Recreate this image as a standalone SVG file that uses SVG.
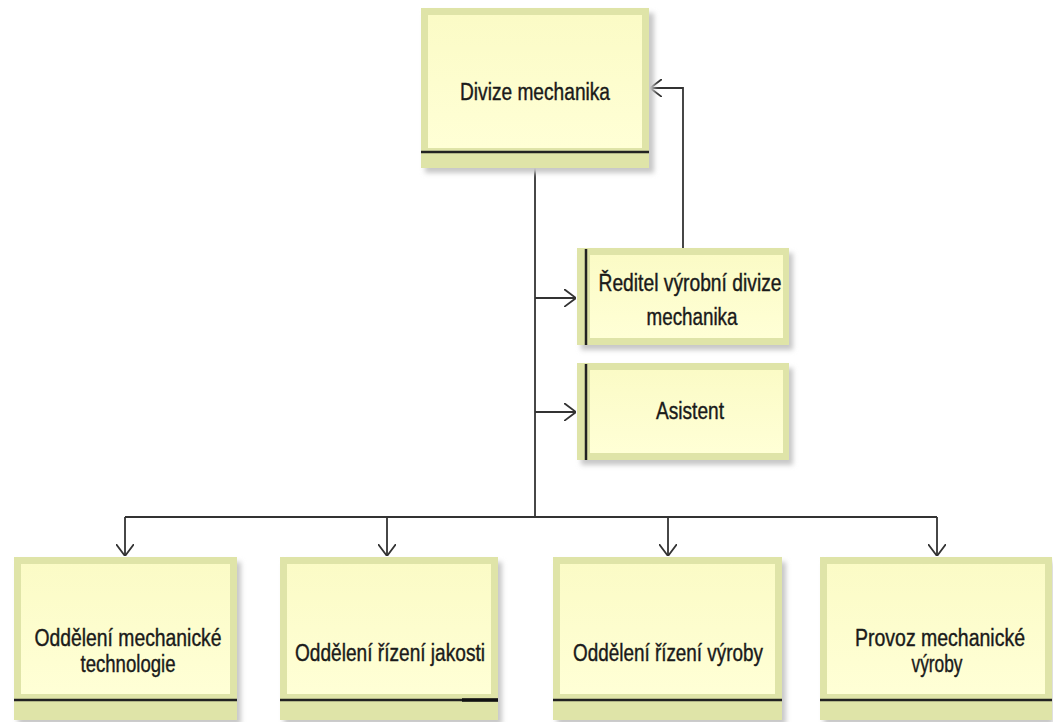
<svg xmlns="http://www.w3.org/2000/svg" width="1053" height="722" viewBox="0 0 1053 722">
<defs>
<style>
.sh{fill:#c8c8c8;filter:url(#blur)}
.out{fill:#dfe4a8}
.in{fill:url(#g)}
.bar{stroke:#222;stroke-width:2.5}
.t{font-family:"Liberation Sans",Arial,sans-serif;font-size:23px;fill:#1a1a1a;stroke:#1a1a1a;stroke-width:0.4;text-anchor:middle}
.c{fill:none;stroke:#333;stroke-width:1.8}
</style>
<filter id="blur" x="-10%" y="-10%" width="120%" height="120%"><feGaussianBlur stdDeviation="2.5"/></filter>
<linearGradient id="g" x1="0" y1="0" x2="0" y2="1">
<stop offset="0" stop-color="#fbfbc6"/>
<stop offset="1" stop-color="#ffffd6"/>
</linearGradient>
<marker id="a" viewBox="0 0 12 18" refX="12" refY="9" markerWidth="12" markerHeight="18" markerUnits="userSpaceOnUse" orient="auto">
<path d="M0,0 L12,9 L0,18" fill="none" stroke="#333" stroke-width="1.8"/>
</marker>
</defs>
<rect width="1053" height="722" fill="#fff"/>
<g id="connectors">
<path class="c" d="M535,168 V517"/>
<path class="c" d="M125,517 H937"/>
<path class="c" d="M125,517 V556" marker-end="url(#a)"/>
<path class="c" d="M387,517 V556" marker-end="url(#a)"/>
<path class="c" d="M668,517 V556" marker-end="url(#a)"/>
<path class="c" d="M937,517 V556" marker-end="url(#a)"/>
<path class="c" d="M535,298 H576" marker-end="url(#a)"/>
<path class="c" d="M535,412 H576" marker-end="url(#a)"/>
<path class="c" d="M683,248 V88 H650" marker-end="url(#a)"/>
</g>
<g id="n-divize">
<rect class="sh" x="425" y="13" width="229" height="160"/>
<rect class="out" x="421" y="8" width="228" height="160"/>
<rect class="in" x="428" y="15" width="214" height="133"/>
<line class="bar" x1="421" y1="152" x2="649" y2="152"/>
<text class="t" x="535" y="100" textLength="150" lengthAdjust="spacingAndGlyphs">Divize mechanika</text>
</g>
<g id="n-reditel">
<rect class="sh" x="581" y="253" width="212" height="97"/>
<rect class="out" x="577" y="248" width="212" height="97"/>
<rect class="in" x="590" y="255" width="193" height="83"/>
<line class="bar" x1="586" y1="249" x2="586" y2="345"/>
<text class="t" x="690" y="291" textLength="183" lengthAdjust="spacingAndGlyphs">Ředitel výrobní divize</text>
<text class="t" x="692" y="325" textLength="91" lengthAdjust="spacingAndGlyphs">mechanika</text>
</g>
<g id="n-asistent">
<rect class="sh" x="581" y="368" width="212" height="97"/>
<rect class="out" x="577" y="363" width="212" height="97"/>
<rect class="in" x="590" y="370" width="193" height="83"/>
<line class="bar" x1="586" y1="364" x2="586" y2="460"/>
<text class="t" x="690" y="419" textLength="68" lengthAdjust="spacingAndGlyphs">Asistent</text>
</g>
<g id="n-tech">
<rect class="sh" x="18" y="562" width="223" height="163"/>
<rect class="out" x="14" y="557" width="223" height="163"/>
<rect class="in" x="21" y="564" width="209" height="130"/>
<line class="bar" x1="14" y1="700" x2="237" y2="700"/>
<text class="t" x="128" y="646" textLength="187" lengthAdjust="spacingAndGlyphs">Oddělení mechanické</text>
<text class="t" x="128" y="672" textLength="95" lengthAdjust="spacingAndGlyphs">technologie</text>
</g>
<g id="n-jakost">
<rect class="sh" x="284" y="562" width="218" height="163"/>
<rect class="out" x="280" y="557" width="218" height="163"/>
<rect class="in" x="287" y="564" width="204" height="130"/>
<line class="bar" x1="280" y1="700" x2="498" y2="700"/>
<line x1="462" y1="700" x2="498" y2="700" stroke="#111" stroke-width="3.5"/>
<text class="t" x="390" y="661" textLength="190" lengthAdjust="spacingAndGlyphs">Oddělení řízení jakosti</text>
</g>
<g id="n-vyroba">
<rect class="sh" x="557" y="562" width="229" height="163"/>
<rect class="out" x="553" y="557" width="229" height="163"/>
<rect class="in" x="560" y="564" width="215" height="130"/>
<line class="bar" x1="553" y1="700" x2="782" y2="700"/>
<text class="t" x="668" y="661" textLength="190" lengthAdjust="spacingAndGlyphs">Oddělení řízení výroby</text>
</g>
<g id="n-provoz">
<rect class="sh" x="824" y="562" width="229" height="163"/>
<rect class="out" x="820" y="557" width="232" height="163"/>
<rect class="in" x="827" y="564" width="218" height="130"/>
<line class="bar" x1="820" y1="700" x2="1052" y2="700"/>
<text class="t" x="940" y="646" textLength="170" lengthAdjust="spacingAndGlyphs">Provoz mechanické</text>
<text class="t" x="937" y="672" textLength="51" lengthAdjust="spacingAndGlyphs">výroby</text>
</g>
</svg>
